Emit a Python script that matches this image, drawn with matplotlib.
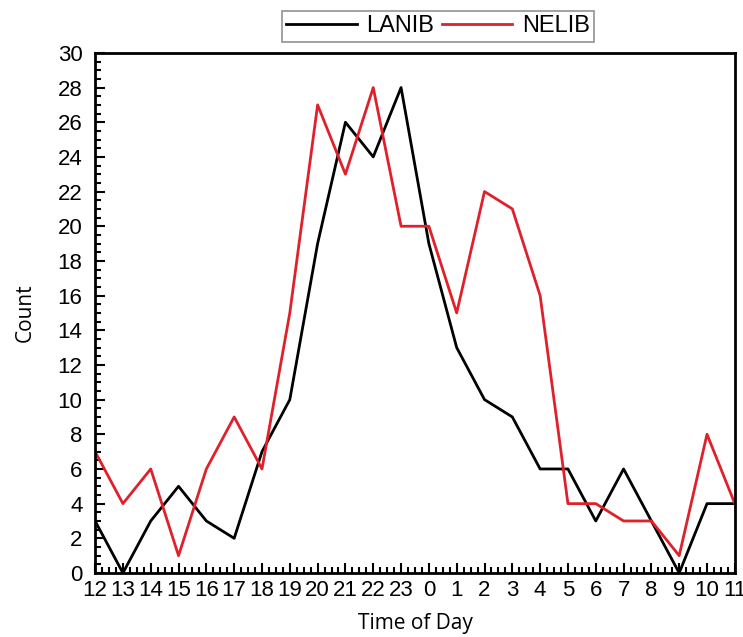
import numpy as np
import matplotlib.pyplot as plt
from matplotlib.ticker import MultipleLocator, AutoMinorLocator

hours = ['12', '13', '14', '15', '16', '17', '18', '19', '20', '21', '22', '23',
         '0', '1', '2', '3', '4', '5', '6', '7', '8', '9', '10', '11']
lanib = [3, 0, 3, 5, 3, 2, 7, 10, 19, 26, 24, 28, 19, 13, 10, 9, 6, 6, 3, 6, 3, 0, 4, 4]
nelib = [7, 4, 6, 1, 6, 9, 6, 15, 27, 23, 28, 20, 20, 15, 22, 21, 16, 4, 4, 3, 3, 1, 8, 4]

plt.rcParams['font.family'] = ['Liberation Sans', 'DejaVu Sans']

fig = plt.figure(figsize=(7.43, 6.37), dpi=100)
ax = fig.add_axes([0.128, 0.1005, 0.861, 0.8165])

x = np.arange(len(hours))
ax.plot(x, lanib, color='black', lw=2, label='LANIB')
ax.plot(x, nelib, color='#e0202a', lw=2, label='NELIB')

ax.set_xlim(0, len(hours) - 1)
ax.set_ylim(0, 30)
ax.set_xticks(x)
ax.set_xticklabels(hours)
ax.yaxis.set_major_locator(MultipleLocator(2))
ax.yaxis.set_minor_locator(MultipleLocator(0.5))
ax.xaxis.set_minor_locator(AutoMinorLocator(4))

ax.tick_params(axis='both', which='both', direction='in', top=False, right=False,
               labelsize=16, width=1.5)
ax.tick_params(axis='both', which='major', length=7)
ax.tick_params(axis='both', which='minor', length=4)
ax.tick_params(axis='x', pad=5)
ax.tick_params(axis='y', pad=9)
for s in ax.spines.values():
    s.set_linewidth(2)

ax.set_xlabel('Time of Day', fontsize=15, labelpad=9, family=['Open Sans', 'DejaVu Sans'])
ax.set_ylabel('Count', fontsize=15, labelpad=16, family=['Open Sans', 'DejaVu Sans'])

leg = ax.legend(loc='lower center', bbox_to_anchor=(0.536, 1.021), ncol=2, fontsize=17,
                frameon=True, fancybox=False, edgecolor='#777777', handlelength=3.0,
                columnspacing=0.3, handletextpad=0.4, borderpad=0.2, borderaxespad=0)
leg.get_frame().set_linewidth(1.2)

fig.savefig('out.png', dpi=100)
